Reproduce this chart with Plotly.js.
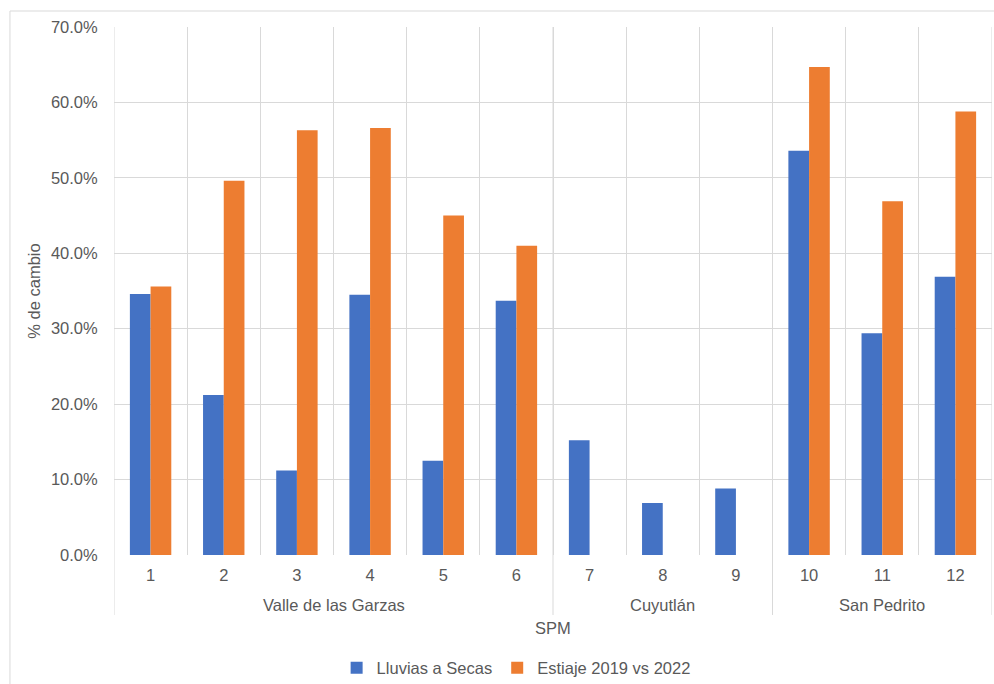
<!DOCTYPE html>
<html>
<head>
<meta charset="utf-8">
<script src="https://cdn.plot.ly/plotly-3.0.1.min.js"></script>
<style>html,body{margin:0;padding:0;background:#fff;}#chart{width:994px;height:684px;}</style>
</head>
<body>
<div id="chart"></div>
<script>
// Data
const categories = ["1","2","3","4","5","6","7","8","9","10","11","12"];
const groups = ["Valle de las Garzas","Cuyutlán","San Pedrito"];
const groupCenters = [2.5, 7, 10];
const groupDividers = [-0.5, 5.5, 8.5, 11.5];
const lluvias = [0.346, 0.212, 0.112, 0.345, 0.125, 0.337, 0.152, 0.069, 0.088, 0.536, 0.294, 0.369];
const estiaje = [0.356, 0.496, 0.563, 0.566, 0.450, 0.410, null, null, null, 0.647, 0.469, 0.588];
const seriesNames = ["Lluvias a Secas", "Estiaje 2019 vs 2022"];
const yTicks = [0, 0.1, 0.2, 0.3, 0.4, 0.5, 0.6, 0.7];

const FONT = '"Liberation Sans", Arial, sans-serif';
const TXT = '#595959';
const GRID = '#D9D9D9';

const traces = [
  {type:'bar', name: seriesNames[0], x: categories, y: lluvias,
   marker:{color:'#4472C4', line:{width:0}}, hoverinfo:'y'},
  {type:'bar', name: seriesNames[1], x: categories, y: estiaje,
   marker:{color:'#ED7D31', line:{width:0}}, hoverinfo:'y'}
];

const shapes = [];
groupDividers.forEach(d => {
  shapes.push({type:'line', xref:'x', yref:'paper', x0:d, x1:d, y0:1, y1:-0.1136,
    line:{color:GRID, width:1}});
});
// outer chart border
shapes.push({type:'rect', xref:'paper', yref:'paper', x0:-0.1185, x1:1.02, y0:-0.3, y1:1.0303,
  line:{color:GRID, width:1}, fillcolor:'rgba(0,0,0,0)', layer:'below'});

const annotations = groups.map((g,i) => ({
  text:g, xref:'x', yref:'paper', x:groupCenters[i], y:-0.0947,
  showarrow:false, xanchor:'center', yanchor:'middle',
  font:{family:FONT, size:16.5, color:TXT}
}));
annotations.push({text:'SPM', xref:'paper', yref:'paper', x:0.5, y:-0.138,
  showarrow:false, xanchor:'center', yanchor:'middle', font:{family:FONT, size:16.5, color:TXT}});

const layout = {
  width:994, height:684,
  margin:{l:114, r:2, t:27, b:129},
  paper_bgcolor:'#fff', plot_bgcolor:'#fff',
  font:{family:FONT, size:16.5, color:TXT},
  barmode:'group', bargap:0.434, bargroupgap:0,
  showlegend:true,
  legend:{orientation:'h', xref:'paper', x:0.458, xanchor:'center',
    yref:'container', y:0.0235, yanchor:'middle',
    font:{family:FONT, size:16.5, color:TXT}, itemwidth:30, traceorder:'normal'},
  xaxis:{type:'category', tickson:'boundaries', showgrid:true, gridcolor:GRID, gridwidth:1,
    ticks:'', ticklabelstandoff:8,
    showline:false, zeroline:false, range:[-0.5, 11.5], fixedrange:true,
    tickfont:{family:FONT, size:16.5, color:TXT}},
  yaxis:{range:[0, 0.7], tickvals:yTicks, tickformat:'.1%', showgrid:true, gridcolor:GRID, gridwidth:1,
    zeroline:false, showline:false, ticks:'outside', ticklen:12, tickcolor:'rgba(0,0,0,0)',
    tickfont:{family:FONT, size:16.5, color:TXT},
    title:{text:'% de cambio', font:{family:FONT, size:16.5, color:TXT}, standoff:6}},
  shapes:shapes,
  annotations:annotations
};

Plotly.newPlot('chart', traces, layout, {displayModeBar:false, staticPlot:true});
</script>
</body>
</html>
